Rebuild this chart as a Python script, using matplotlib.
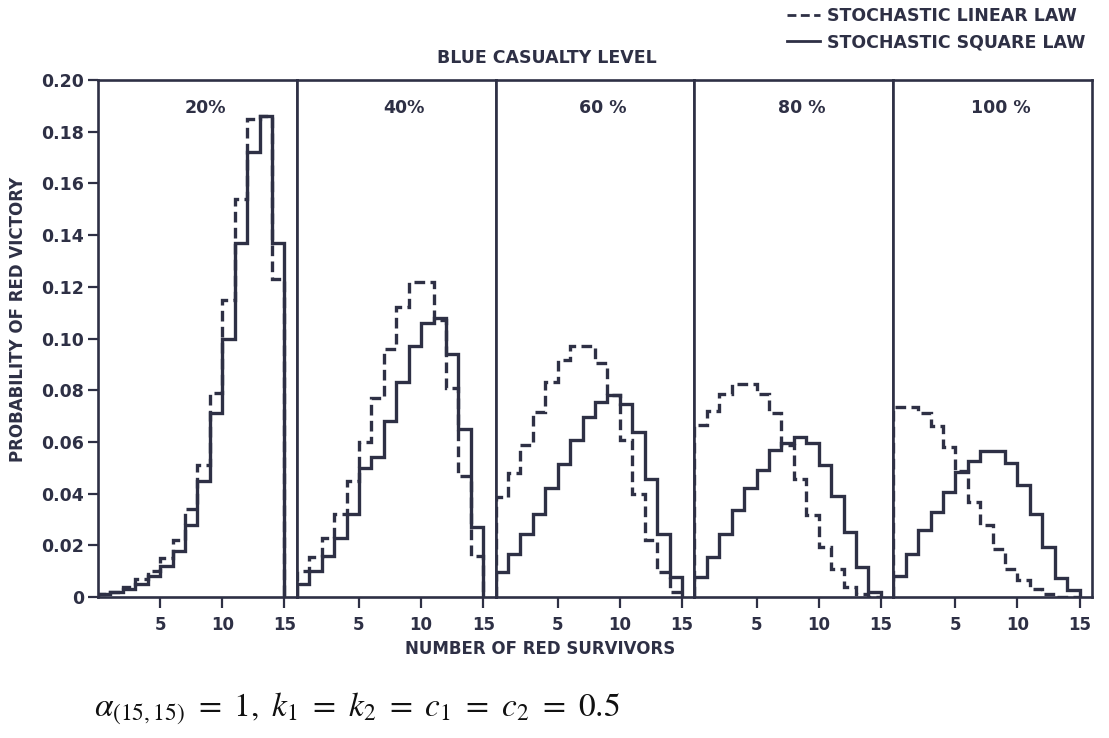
import numpy as np
import matplotlib.pyplot as plt
from matplotlib.lines import Line2D

INK = '#2e3045'
plt.rcParams['font.family'] = ['Liberation Sans Narrow', 'DejaVu Sans']
plt.rcParams['mathtext.fontset'] = 'stix'

# blue casualty levels (one panel each)
levels = ['20%', '40%', '60 %', '80 %', '100 %']
# red survivors 1..15, bin n covers [n-1, n]
edges = np.arange(0, 16)

# stochastic linear law (dashed)
linear_20 = [0.001, 0.002, 0.004, 0.007, 0.010, 0.015, 0.022, 0.034, 0.051, 0.079, 0.115, 0.154, 0.185, 0.186, 0.123]
linear_40 = [0.010, 0.0155, 0.023, 0.032, 0.045, 0.060, 0.077, 0.096, 0.112, 0.122, 0.122, 0.107, 0.081, 0.047, 0.016]
linear_60 = [0.0387, 0.048, 0.059, 0.0716, 0.083, 0.0916, 0.097, 0.097, 0.0907, 0.078, 0.0606, 0.040, 0.022, 0.0097, 0.002]
linear_80 = [0.0665, 0.072, 0.0787, 0.0826, 0.0826, 0.0787, 0.071, 0.0587, 0.0458, 0.0316, 0.0194, 0.011, 0.0039, 0.001, 0.0]
linear_100 = [0.0737, 0.0737, 0.071, 0.066, 0.058, 0.0486, 0.0369, 0.0277, 0.0186, 0.0107, 0.0066, 0.003, 0.001, 0.0, 0.0]

# stochastic square law (solid)
square_20 = [0.001, 0.002, 0.003, 0.005, 0.008, 0.012, 0.018, 0.028, 0.045, 0.071, 0.100, 0.137, 0.172, 0.186, 0.137]
square_40 = [0.005, 0.010, 0.016, 0.023, 0.032, 0.050, 0.054, 0.068, 0.083, 0.097, 0.106, 0.108, 0.094, 0.065, 0.027]
square_60 = [0.0097, 0.0168, 0.0245, 0.032, 0.042, 0.0516, 0.0606, 0.0697, 0.0755, 0.078, 0.0748, 0.0639, 0.0458, 0.0245, 0.0077]
square_80 = [0.0077, 0.0155, 0.0245, 0.0335, 0.042, 0.049, 0.0568, 0.0594, 0.062, 0.0594, 0.051, 0.039, 0.0252, 0.0116, 0.0019]
square_100 = [0.0081, 0.0166, 0.0258, 0.033, 0.0408, 0.0484, 0.0525, 0.0565, 0.0565, 0.052, 0.0434, 0.0323, 0.0192, 0.0075, 0.0029]

linear = [linear_20, linear_40, linear_60, linear_80, linear_100]
square = [square_20, square_40, square_60, square_80, square_100]

yticks = [0, 0.02, 0.04, 0.06, 0.08, 0.10, 0.12, 0.14, 0.16, 0.18, 0.20]
ylabels = ['0', '0.02', '0.04', '0.06', '0.08', '0.10', '0.12', '0.14', '0.16', '0.18', '0.20']
xticks = [5, 10, 15]

dash = (0, (3.2, 1.6))

fig = plt.figure(figsize=(11.09, 7.38), dpi=100)
axes = fig.subplots(1, 5, sharey=True)
fig.subplots_adjust(left=0.0884, right=0.9847, top=0.8916, bottom=0.191, wspace=0)

for i, ax in enumerate(axes):
    ax.stairs(square[i], edges, baseline=0, color=INK, lw=2.4)
    ax.stairs(linear[i], edges, baseline=0, color=INK, lw=2.4, linestyle=dash)
    ax.set_xlim(0, 16)
    ax.set_ylim(0, 0.20)
    ax.set_xticks(xticks)
    ax.set_xticklabels([str(t) for t in xticks], fontsize=12, fontweight='bold', color=INK)
    ax.tick_params(axis='x', direction='out', length=8, width=1.6, color=INK, pad=6)
    for s in ax.spines.values():
        s.set_linewidth(1.9)
        s.set_color(INK)
    ax.text(0.54, 0.945, levels[i], transform=ax.transAxes, ha='center', va='center',
            fontsize=12.5, fontweight='bold', color=INK)
    if i > 0:
        ax.tick_params(axis='y', left=False, labelleft=False)

axes[0].set_yticks(yticks)
axes[0].set_yticklabels(ylabels, fontsize=12.5, fontweight='bold', color=INK)
axes[0].tick_params(axis='y', direction='out', length=7, width=1.6, color=INK, pad=3)

fig.text(0.493, 0.921, 'BLUE CASUALTY LEVEL', ha='center', va='center',
         fontsize=12.5, fontweight='bold', color=INK)
fig.text(0.487, 0.121, 'NUMBER OF RED SURVIVORS', ha='center', va='center',
         fontsize=12, fontweight='bold', color=INK)
fig.text(0.016, 0.567, 'PROBABILITY OF RED VICTORY', ha='center', va='center',
         rotation=90, fontsize=12, fontweight='bold', color=INK)

handles = [Line2D([], [], color=INK, lw=2, linestyle=dash),
           Line2D([], [], color=INK, lw=2)]
fig.legend(handles, ['STOCHASTIC LINEAR LAW', 'STOCHASTIC SQUARE LAW'],
           loc='upper right', bbox_to_anchor=(0.993, 1.012), frameon=False,
           handlelength=1.9, handletextpad=0.4, labelspacing=0.5,
           prop={'size': 12.5, 'weight': 'bold'}, labelcolor=INK)

fig.text(0.085, 0.04, r'$\alpha_{(15,15)}\ =\ 1,\ k_1\ =\ k_2\ =\ c_1\ =\ c_2\ =\ 0.5$',
         ha='left', va='center', fontsize=24, color='#111111')

fig.savefig('out.png', dpi=100)
